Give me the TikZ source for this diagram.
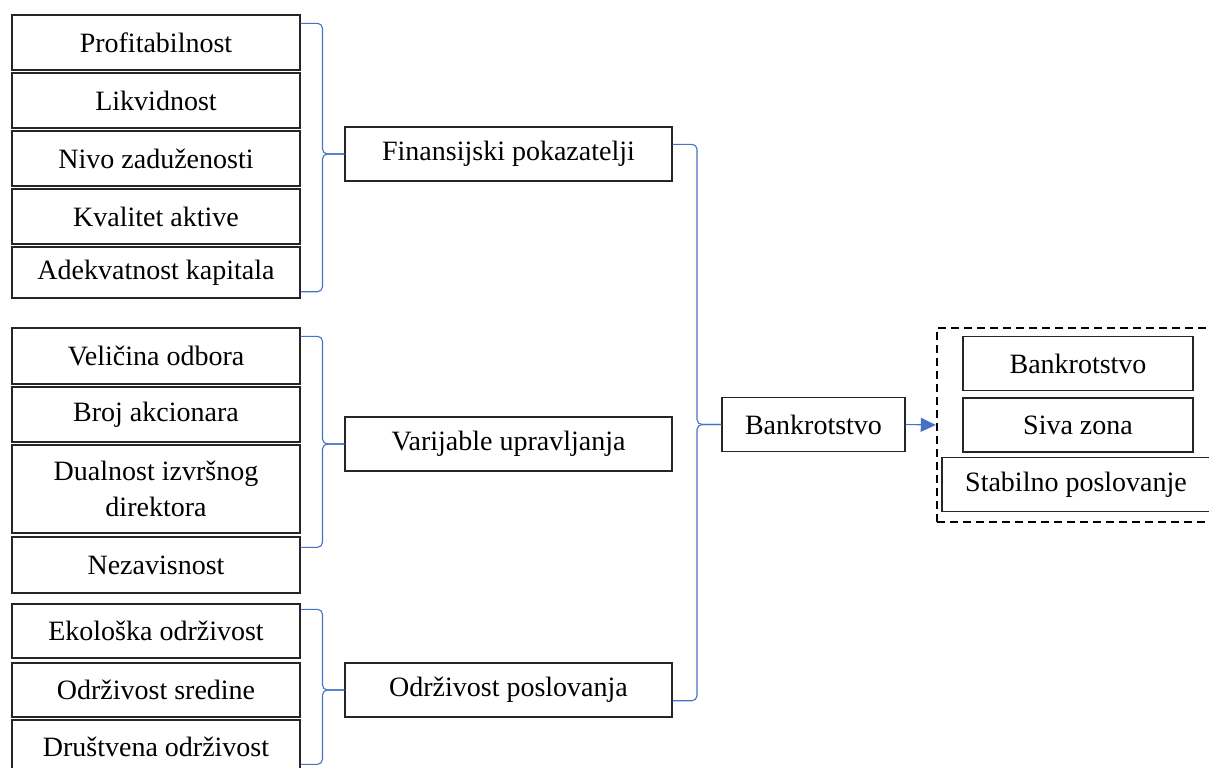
\documentclass[tikz,border=0pt]{standalone}
\usepackage{fontspec}
\setmainfont{Liberation Serif}
\usetikzlibrary{calc}
\usetikzlibrary{arrows.meta}

\definecolor{braceblue}{HTML}{4472C4}

% brace from two loose ends to the west side of a node
\newcommand{\groupbrace}[3]{%
  \draw[brace] (#1) -| ($(#1)!.5!(#3.west)$) |- (#3.west);
  \draw[brace] (#2) -| ($(#2)!.5!(#3.west)$) |- (#3.west);
}

\begin{document}
\begin{tikzpicture}[x=0.5pt,y=-0.5pt,
    item/.style={
% The shape:
rectangle,
% The size:
minimum height=#1,
minimum width=144pt,
inner sep=0pt,
% The border:
draw=black!85, line width=0.7pt,
align=center,
font=\fontsize{14}{18}\selectfont
},
    item/.default=27.5pt,
    group/.style={
% The shape:
rectangle,
% The size:
minimum height=27pt,
minimum width=163.5pt,
inner sep=0pt,
% The border:
draw=black!85, line width=0.7pt,
font=\fontsize{14}{18}\selectfont
},
    outcome/.style={
% The shape:
rectangle,
% The size:
minimum height=27pt,
minimum width=#1,
inner sep=0pt,
% The border:
draw=black!85, line width=0.7pt,
font=\fontsize{14}{18}\selectfont
},
    frame/.style={
rectangle,
minimum height=97pt,
minimum width=139pt,
draw=black, line width=1.2pt,
dash pattern=on 4pt off 2.5pt
},
    brace/.style={draw=braceblue, line width=0.55pt, rounded corners=2.5pt},
    arrow/.style={draw=braceblue, line width=0.55pt, -{Triangle[length=7.5pt,width=7pt]}},
]
  \useasboundingbox (0,0) rectangle (1209,767);

  % indicators
  \node[item]        (prof) at (156, 42.5)  {Profitabilnost};
  \node[item]        (likv) at (156, 100.5) {Likvidnost};
  \node[item]        (nivo) at (156, 158.5) {Nivo zaduženosti};
  \node[item]        (kval) at (156, 216.5) {Kvalitet aktive};
  \node[item=25.5pt] (adek) at (156, 272.5) {Adekvatnost kapitala};

  \node[item=28pt]   (veli) at (156, 356)   {Veličina odbora};
  \node[item]        (broj) at (156, 414.5) {Broj akcionara};
  \node[item=44pt]   (dual) at (156, 489)   {Dualnost izvršnog\\direktora};
  \node[item=28pt]   (neza) at (156, 565)   {Nezavisnost};

  \node[item=27pt]   (ekol) at (156, 631)   {Ekološka održivost};
  \node[item=27pt]   (odrz) at (156, 690)   {Održivost sredine};
  \node[item=27pt]   (drus) at (156, 747)   {Društvena održivost};

  % groups
  \node[group]       (fin)  at (508.5, 154) {Finansijski pokazatelji};
  \node[group]       (var)  at (508.5, 444) {Varijable upravljanja};
  \node[group]       (odp)  at (508.5, 690) {Održivost poslovanja};

  \node[group, minimum width=91.5pt] (bank) at (813.5, 424.5) {Bankrotstvo};

  % outcomes
  \node[frame]                (out)  at (1076, 425)    {};
  \node[outcome=115pt]        (bnk)  at (1078, 363.5)  {Bankrotstvo};
  \node[outcome=115pt]        (siva) at (1078, 425)    {Siva zona};
  \node[outcome=134pt]        (stab) at (1076, 484.7)  {Stabilno poslovanje};

  % brace ends
  \coordinate (b1t) at ($(prof.north east)+(0,9)$);
  \coordinate (b1b) at ($(adek.south east)+(0,-7)$);
  \coordinate (b2t) at ($(veli.north east)+(0,9)$);
  \coordinate (b2b) at ($(neza.north east)+(0,11)$);
  \coordinate (b3t) at ($(ekol.north east)+(0,6)$);
  \coordinate (b3b) at ($(drus.north east)+(0,45)$);
  \coordinate (b4t) at ($(fin.north east)+(0,18)$);
  \coordinate (b4b) at ($(odp.south east)+(0,-17)$);

  \groupbrace{b1t}{b1b}{fin}
  \groupbrace{b2t}{b2b}{var}
  \groupbrace{b3t}{b3b}{odp}
  \groupbrace{b4t}{b4b}{bank}

  \draw[arrow] (bank.east) -- (out.west);
\end{tikzpicture}
\end{document}
